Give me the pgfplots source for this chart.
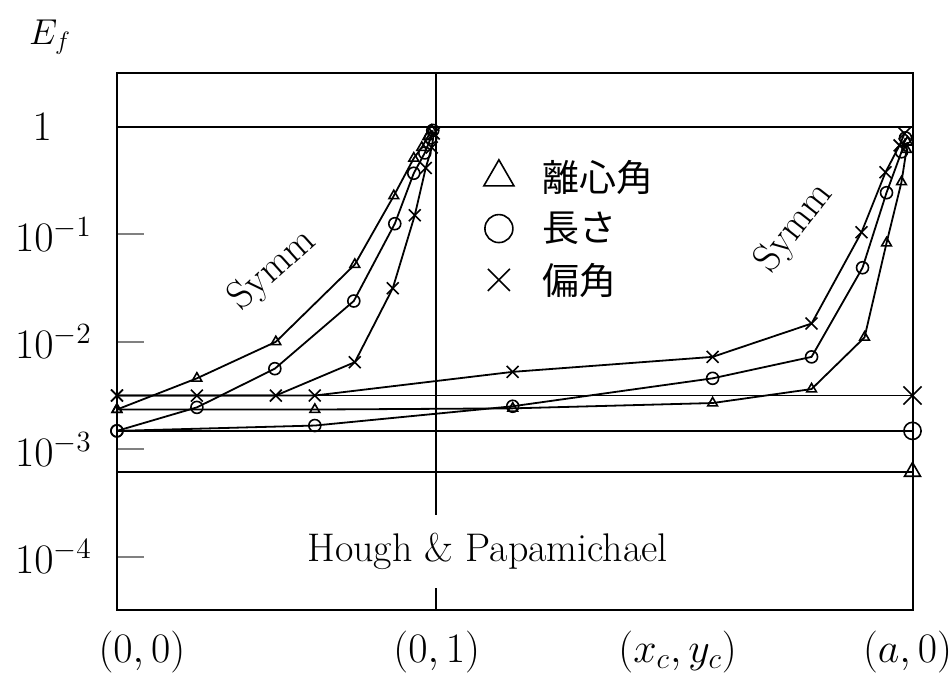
\documentclass[border=0pt]{standalone}
\usepackage{fix-cm}
\usepackage{pgfplots}
\pgfplotsset{compat=1.18}
\usepackage{fontspec}
\newfontfamily\cjk{Noto Sans CJK JP}
\newcommand{\bigf}{\fontsize{20}{24}\selectfont}
\newcommand{\mathf}{\fontsize{21}{25}\selectfont}
\begin{document}
\begin{tikzpicture}
\begin{axis}[
  at={(0,0)}, anchor=south west,
  scale only axis, width=398pt, height=268.5pt,
  xmin=0, xmax=796,
  ymode=log, ymin=3.1623e-5, ymax=3.1623,
  clip=false,
  axis line style={line width=1pt},
  tick pos=left,
  xtick={25,320,561,791},
  xticklabels={{$(0,0)$},{$(0,1)$},{$(x_c,y_c)$},{$(a,0)$}},
  xtick style={draw=none},
  ytick={1e-4,1e-3,1e-2,1e-1,1},
  yticklabels={$10^{-4}$,$10^{-3}$,$10^{-2}$,$10^{-1}$,{$1$\hspace*{20pt}}},
  ytick style={line width=1pt},
  yminorticks=false,
  major tick length=13.5pt,
  tick align=inside,
  tick label style={font=\mathf},
  xticklabel style={yshift=-7pt, inner xsep=0pt},
  yticklabel style={xshift=-9pt},
  legend style={at={(0.457,0.843)}, anchor=north west, draw=none, fill=none,
    font=\fontsize{18.5}{22}\selectfont\cjk, row sep=7pt, inner sep=0pt, nodes={inner sep=1pt}},
  legend cell align=left,
  legend image code/.code={\draw[#1] plot coordinates {(0pt,0pt)}; \path[draw=none,fill=none] (-9pt,-9pt) rectangle (21pt,9pt);},
  every axis plot/.append style={line width=0.9pt, mark options={solid, line width=0.8pt}},
]
\addlegendimage{only marks, mark=triangle, mark size=8.7pt}
\addlegendimage{only marks, mark=o, mark size=7pt}
\addlegendimage{only marks, mark=x, mark size=7.8pt}
\legend{離心角,長さ,偏角}

% frame lines
\addplot[forget plot] coordinates {(0,1)(796,1)};
\addplot[forget plot] coordinates {(319,3.1623e-5)(319,3.1623)};

% reference lines (Hough & Papamichael)
\addplot[forget plot] coordinates {(0,3.16e-3)(796,3.16e-3)};
\addplot[forget plot] coordinates {(0,1.48e-3)(796,1.48e-3)};
\addplot[forget plot] coordinates {(0,6.17e-4)(796,6.17e-4)};
\addplot[forget plot, only marks, mark=x, mark size=6.4pt] coordinates {(796,3.16e-3)};
\addplot[forget plot, only marks, mark=o, mark size=4.3pt] coordinates {(796,1.48e-3)};
\addplot[forget plot, only marks, mark=triangle, mark size=4.6pt] coordinates {(796,6.17e-4)};

% left Symm series
\addplot[forget plot, mark=triangle, mark size=2.8pt] coordinates {
(0,2.34e-3)(80,4.57e-3)(159,1.0e-2)(238,5.25e-2)(277,0.229)(297,0.513)(305,0.646)(311,0.813)(315,0.933)};
\addplot[forget plot, mark=o, mark size=3pt] coordinates {
(0,1.48e-3)(80,2.45e-3)(158,5.62e-3)(237,2.40e-2)(278,0.126)(297,0.372)(308,0.575)(314,0.794)(316,0.933)};
\addplot[forget plot, mark=x, mark size=4.2pt] coordinates {
(0,3.16e-3)(80,3.16e-3)(159,3.16e-3)(238,6.46e-3)(276,3.16e-2)(298,0.151)(309,0.417)(315,0.646)(317,0.871)};

% right series
\addplot[forget plot, mark=triangle, mark size=2.8pt] coordinates {
(0,2.34e-3)(198,2.34e-3)(396,2.40e-3)(596,2.69e-3)(695,3.63e-3)(748,1.10e-2)(770,8.32e-2)(785,0.309)(790,0.617)(791,0.724)};
\addplot[forget plot, mark=o, mark size=3pt] coordinates {
(0,1.48e-3)(198,1.66e-3)(396,2.51e-3)(596,4.57e-3)(695,7.24e-3)(746,4.90e-2)(770,0.245)(785,0.589)(789,0.794)};
\addplot[forget plot, mark=x, mark size=4.2pt] coordinates {
(0,3.16e-3)(198,3.16e-3)(396,5.25e-3)(596,7.24e-3)(695,1.48e-2)(745,0.105)(769,0.380)(783,0.676)(788,0.871)};

\node[rotate=42, font=\bigf] at (axis cs:156,0.0465) {Symm};
\node[rotate=52, font=\bigf] at (axis cs:678,0.115) {Symm};
\node[fill=white, inner xsep=4pt, inner ysep=9pt, font=\bigf] at (axis cs:371,1.11e-4) {Hough \& Papamichael};
\end{axis}
\node[anchor=base west, font=\fontsize{18}{21}\selectfont] at (-47.5pt,283pt) {$E_f$};
\path (-58.5pt,-35.75pt) rectangle (417.5pt,305.25pt);
\end{tikzpicture}
\end{document}
